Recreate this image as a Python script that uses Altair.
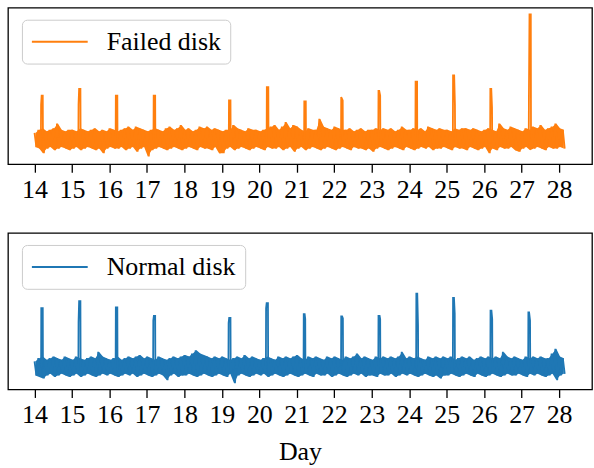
import altair as alt
import pandas as pd

FONT = "Liberation Serif"

# x grid: band readings every 0.1 day (upper edge) and offset by 0.05 day (lower edge)
upper_start = 14.0
lower_start = 14.05
step = 0.1

# ---- Failed disk (values in panel units 0..100) ----
failed_upper = [
    20, 22, 23, 21, 22, 23, 26, 22, 21, 22,
    22, 21, 23, 22, 21, 22, 23, 21, 22, 21,
    23, 22, 21, 22, 23, 24, 22, 24, 23, 22,
    21, 22, 23, 22, 21, 23, 24, 22, 23, 25,
    22, 23, 21, 22, 24, 23, 24, 22, 23, 22,
    21, 22, 22, 25, 23, 22, 21, 23, 22, 22,
    21, 22, 23, 24, 25, 22, 24, 27, 23, 25,
    24, 22, 21, 23, 22, 22, 29, 24, 23, 22,
    24, 23, 22, 22, 23, 21, 22, 23, 21, 22,
    22, 23, 22, 23, 22, 23, 21, 22, 24, 22,
    22, 23, 22, 23, 21, 24, 23, 22, 23, 22,
    22, 21, 23, 22, 23, 23, 22, 23, 22, 21,
    22, 23, 22, 21, 26, 23, 22, 24, 23, 22,
    21, 23, 22, 24, 23, 25, 22, 23, 24, 26,
    23, 22,
]
failed_lower = [
    11, 10, 7, 10, 11, 9, 10, 11, 10, 9,
    10, 11, 9, 10, 11, 10, 9, 10, 7, 10,
    11, 10, 10, 11, 9, 10, 11, 8, 10, 11,
    5, 9, 10, 11, 10, 9, 10, 11, 10, 9,
    10, 11, 10, 9, 11, 10, 10, 9, 11, 7,
    7, 10, 11, 9, 10, 11, 10, 9, 10, 11,
    10, 9, 11, 10, 10, 11, 9, 10, 11, 8,
    10, 11, 9, 10, 11, 10, 9, 10, 11, 10,
    9, 10, 11, 10, 9, 11, 10, 10, 9, 10,
    8, 10, 11, 10, 9, 10, 11, 10, 9, 11,
    10, 9, 10, 11, 10, 11, 9, 10, 10, 11,
    10, 9, 11, 10, 10, 9, 11, 10, 9, 10,
    11, 7, 10, 9, 11, 10, 10, 11, 9, 8,
    10, 11, 9, 10, 11, 10, 9, 11, 10, 10,
    11, 10,
]
# each spike: rise from the band, plateau (with shoulders), fall back to the band
failed_spike_days = [
    [14.17, 14.175, 14.19, 14.22, 14.225], [15.17, 15.175, 15.19, 15.225, 15.23],
    [16.165, 16.17, 16.21, 16.215], [17.175, 17.18, 17.22, 17.225],
    [19.185, 19.19, 19.23, 19.235], [20.195, 20.2, 20.24, 20.245],
    [21.195, 21.2, 21.24, 21.245], [22.18, 22.185, 22.225, 22.23],
    [23.175, 23.18, 23.2, 23.225, 23.23], [24.165, 24.17, 24.21, 24.215],
    [25.165, 25.17, 25.2, 25.22, 25.225], [26.16, 26.165, 26.19, 26.21, 26.215],
    [27.19, 27.195, 27.21, 27.245, 27.25],
]
failed_spike_vals = [
    [16, 38, 43.8, 43.8, 16], [16, 38.4, 48.2, 48.2, 16],
    [16, 43.8, 43.8, 16], [16, 43.8, 43.8, 16],
    [16, 40.8, 40.8, 16], [16, 49.2, 49.2, 16],
    [16, 40.1, 40.1, 16], [16, 42.9, 40.8, 16],
    [16, 46.9, 46.9, 43.8, 16], [16, 52.7, 52.7, 16],
    [16, 56.7, 56.7, 38, 16], [16, 48.2, 48.2, 36.3, 16],
    [16, 43.3, 95.7, 95.7, 16],
]

# ---- Normal disk ----
normal_upper = [
    18, 20, 21, 19, 20, 21, 20, 19, 21, 20,
    19, 21, 20, 19, 20, 21, 20, 24, 21, 20,
    19, 20, 21, 19, 20, 21, 20, 21, 22, 20,
    21, 20, 19, 21, 20, 19, 20, 21, 20, 21,
    22, 21, 23, 25, 23, 22, 21, 20, 21, 20,
    21, 20, 19, 20, 21, 20, 22, 20, 21, 20,
    19, 20, 21, 20, 19, 21, 20, 21, 20, 21,
    22, 20, 19, 21, 20, 21, 20, 19, 21, 20,
    21, 20, 19, 21, 20, 21, 23, 20, 21, 20,
    19, 21, 20, 21, 20, 21, 20, 21, 24, 20,
    21, 20, 21, 20, 19, 21, 20, 21, 20, 21,
    20, 21, 19, 20, 21, 20, 21, 19, 20, 21,
    20, 21, 20, 21, 20, 24, 21, 20, 21, 20,
    19, 21, 20, 21, 20, 21, 20, 20, 23, 26,
    21, 20,
]
normal_lower = [
    9, 8, 7, 9, 10, 8, 9, 10, 9, 8,
    9, 10, 8, 9, 10, 9, 8, 9, 10, 9,
    10, 9, 8, 9, 10, 9, 10, 8, 9, 10,
    9, 8, 9, 10, 9, 6, 9, 10, 8, 9,
    9, 10, 9, 8, 9, 10, 9, 8, 9, 10,
    9, 8, 10, 4, 9, 10, 9, 8, 9, 10,
    9, 10, 8, 9, 10, 9, 8, 9, 10, 9,
    8, 9, 10, 9, 8, 10, 9, 9, 10, 8,
    9, 10, 9, 8, 9, 10, 9, 10, 8, 9,
    9, 8, 10, 9, 9, 10, 8, 9, 10, 9,
    10, 9, 8, 9, 10, 9, 8, 9, 7, 9,
    9, 10, 9, 8, 9, 10, 9, 8, 10, 9,
    8, 9, 10, 9, 8, 9, 10, 9, 9, 10,
    9, 8, 10, 9, 10, 9, 8, 9, 10, 6,
    9, 10,
]
normal_spike_days = [
    [14.175, 14.18, 14.22, 14.225], [15.17, 15.175, 15.19, 15.225, 15.23],
    [16.165, 16.17, 16.21, 16.215], [17.165, 17.17, 17.185, 17.22, 17.225],
    [19.175, 19.18, 19.195, 19.23, 19.235], [20.175, 20.18, 20.195, 20.23, 20.235],
    [21.18, 21.185, 21.21, 21.225, 21.23], [22.18, 22.185, 22.21, 22.23, 22.235],
    [23.175, 23.18, 23.21, 23.225, 23.23], [24.185, 24.19, 24.215, 24.235, 24.24],
    [25.165, 25.17, 25.195, 25.215, 25.22], [26.165, 26.17, 26.195, 26.215, 26.22],
    [27.175, 27.18, 27.2, 27.225, 27.23],
]
normal_spike_vals = [
    [14, 52, 52, 14], [14, 42.9, 56.5, 56.5, 14],
    [14, 52.4, 52.4, 14], [14, 44, 47.1, 47.1, 14],
    [14, 42.5, 45.7, 45.7, 14], [14, 51.8, 55.2, 55.2, 14],
    [14, 48.2, 48.2, 45, 14], [14, 46.7, 46.7, 45.4, 14],
    [14, 47.1, 47.1, 45, 14], [14, 61.3, 61.3, 40.8, 14],
    [14, 58.6, 58.6, 48.6, 14], [14, 50.3, 50.3, 45, 14],
    [14, 49.2, 49.2, 44, 14],
]

x_ticks = list(range(14, 29))
x_domain = [13.2915, 28.8785]
y_domain = [0, 100]


def build_line(upper, lower, sdays, svals, name):
    pts = [(upper_start + step * k, v) for k, v in enumerate(upper)]
    pts += [(lower_start + step * k, v) for k, v in enumerate(lower)]
    ranges = [(d[0] - 0.004, d[-1] + 0.004) for d in sdays]
    pts = [p for p in pts if not any(a <= p[0] <= b for a, b in ranges)]
    for d, v in zip(sdays, svals):
        pts += list(zip(d, v))
    pts.sort(key=lambda p: p[0])
    return pd.DataFrame({"day": [round(p[0], 4) for p in pts],
                         "value": [p[1] for p in pts],
                         "series": name})


def build_band(upper, lower):
    return pd.DataFrame({"day": [round(upper_start + step * k + 0.025, 4) for k in range(len(upper))],
                         "hi": upper, "lo": lower})


def panel(upper, lower, sdays, svals, name, color, show_title):
    x_axis = alt.Axis(values=x_ticks, labelFontSize=26, labelFont=FONT, labelColor="black",
                      tickColor="black", tickWidth=1.3, tickSize=8, labelPadding=4,
                      domain=False, grid=False, labelFlush=False,
                      title="Day" if show_title else None,
                      titleFont=FONT, titleFontSize=26, titleFontWeight="normal",
                      titleColor="black", titlePadding=11)
    xs = alt.Scale(domain=x_domain, nice=False, zero=False)
    ys = alt.Scale(domain=y_domain, nice=False, zero=False)
    band = alt.Chart(build_band(upper, lower)).mark_area(color=color, clip=True).encode(
        x=alt.X("day:Q", scale=xs, axis=x_axis),
        y=alt.Y("hi:Q", scale=ys, axis=None),
        y2="lo:Q",
    )
    line = alt.Chart(build_line(upper, lower, sdays, svals, name)).mark_line(
        strokeWidth=1.8, strokeJoin="miter", strokeMiterLimit=2, clip=True
    ).encode(
        x=alt.X("day:Q", scale=xs, axis=x_axis),
        y=alt.Y("value:Q", scale=ys, axis=None),
        color=alt.Color("series:N", scale=alt.Scale(domain=[name], range=[color]),
                        legend=alt.Legend(title=None, orient="none", legendX=14, legendY=12,
                                          symbolType="stroke", symbolSize=3136,
                                          clipHeight=26,
                                          symbolStrokeWidth=2, labelFont=FONT,
                                          labelFontSize=26, labelColor="black",
                                          labelOffset=18, padding=9,
                                          fillColor="white", strokeColor="#cccccc",
                                          cornerRadius=5)),
    )
    return alt.layer(band, line).properties(width=586, height=157)


top = panel(failed_upper, failed_lower, failed_spike_days, failed_spike_vals,
            "Failed disk", "#ff7f0e", False)
bottom = panel(normal_upper, normal_lower, normal_spike_days, normal_spike_vals,
               "Normal disk", "#1f77b4", True)

chart = alt.vconcat(top, bottom, spacing=29).resolve_scale(color="independent").resolve_legend(
    color="independent"
).properties(
    padding={"left": 7, "top": 6, "right": 1, "bottom": 0},
    background="white",
).configure_view(stroke="black", strokeWidth=1.3)

chart.save("out.html", embed_options={"renderer": "svg", "actions": False})
